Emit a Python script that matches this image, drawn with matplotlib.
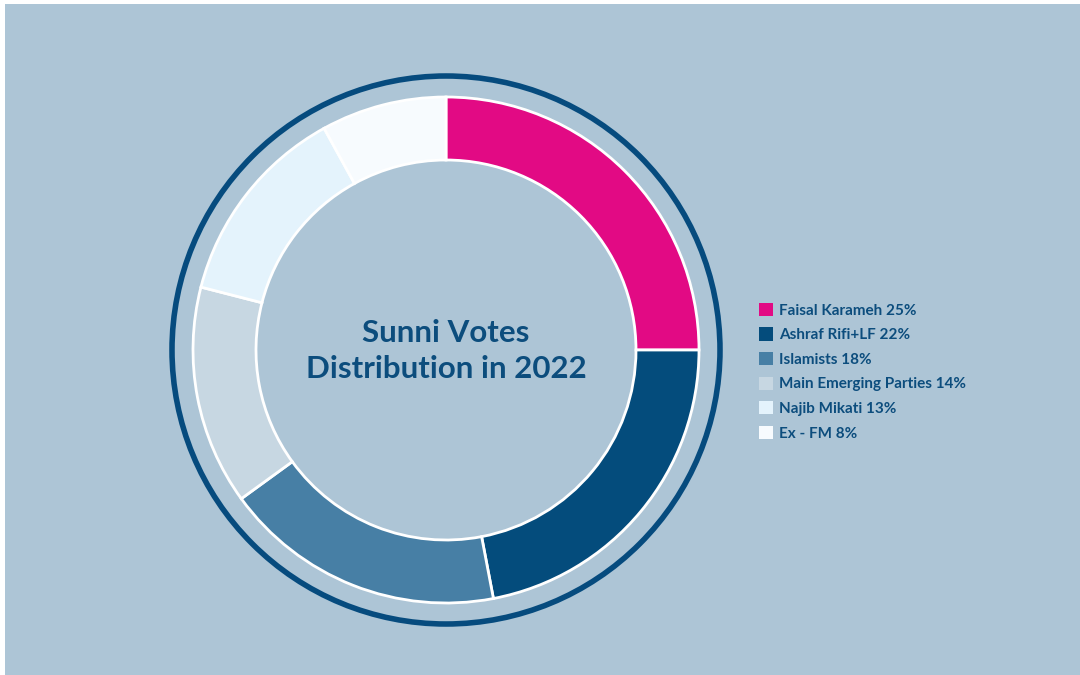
import matplotlib.pyplot as plt
from matplotlib.patches import Circle, Rectangle

# Vote shares
parties = ["Faisal Karameh", "Ashraf Rifi+LF", "Islamists",
           "Main Emerging Parties", "Najib Mikati", "Ex - FM"]
shares = [25, 22, 18, 14, 13, 8]
colors = ["#e20a84", "#044c7c", "#477fa5", "#c7d7e2", "#e4f3fc", "#f7fbfe"]

bg = "#adc5d6"
navy = "#0c4d7d"

plt.rcParams["font.family"] = ["Lato", "DejaVu Sans"]

fig = plt.figure(figsize=(10.8, 6.75), dpi=100)
fig.patch.set_facecolor("white")

ax = fig.add_axes([0, 0, 1, 1])
ax.set_facecolor("none")

# background panel with a thin white margin on the left and top
ax.add_patch(Rectangle((5, 0), 1080, 675 - 4, facecolor=bg, edgecolor="none", zorder=-5))

cx, cy = 446, 675 - 350
wedges, _ = ax.pie(shares, colors=colors, startangle=90, counterclock=False,
                   center=(cx, cy), radius=253,
                   wedgeprops=dict(width=63, edgecolor="white", linewidth=2))

# outer ring
ax.add_patch(Circle((cx, cy), 274, fill=False, edgecolor="#064b7e", linewidth=4))

ax.set_xlim(0, 1080)
ax.set_ylim(0, 675)
ax.set_aspect("equal")
ax.axis("off")

ax.text(cx, cy - 1, "Sunni Votes\nDistribution in 2022", ha="center", va="center",
        fontsize=22.5, fontweight="bold", color=navy, linespacing=1.35)

labels = [f"{p} {s}%" for p, s in zip(parties, shares)]
leg = ax.legend(wedges, labels, loc="upper left", bbox_to_anchor=(745 / 1080, 1 - 289 / 675),
                frameon=False, handlelength=0.95, handleheight=0.95, handletextpad=0.35,
                labelspacing=0.64, prop=dict(size=11, weight="bold"))
for t in leg.get_texts():
    t.set_color(navy)
for h in leg.legend_handles:
    h.set_edgecolor("none")

fig.savefig("out.png", dpi=100, facecolor=fig.get_facecolor())
